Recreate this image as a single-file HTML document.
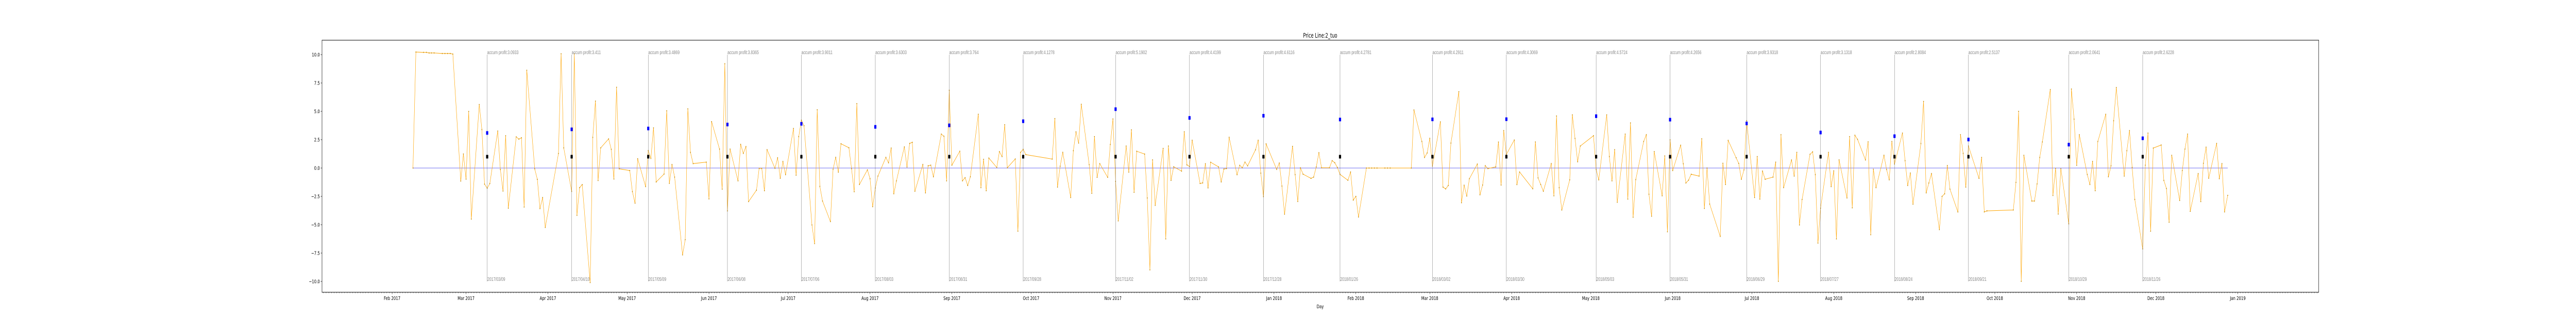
<!DOCTYPE html>
<html><head><meta charset="utf-8"><style>
html,body{margin:0;padding:0;background:#fff;overflow:hidden;width:100%;height:100%;}
svg{display:block;font-family:"DejaVu Sans","Liberation Sans",sans-serif;width:100vw;height:100vh;}
</style></head><body>
<svg id="chart" viewBox="0 0 7200 648" preserveAspectRatio="none" xmlns="http://www.w3.org/2000/svg">
<text x="3690" y="73" text-anchor="middle" font-size="12">Price Line:2_tuo</text>
<text x="3690" y="598" text-anchor="middle" font-size="10">Day</text>
</svg>
<script>
// days since 2017-01-01
const days = [38.9,40,42.9,44,45,45.9,46.9,50,51,52,53,54,57,58,59,60,61,64,65,66,67,68,71,72,73,74,75,78,79,80,81,82,85,86,87,88,89,94,95,96,99,100,101,102,103,106,107,108,109,110,113,114,115,116,117,121,122,123,124,127,128,129,130,131,134,135,136,137,138,141,142,143,144,145,150,151,152,155,156,157,158,159,162,163,164,165,166,169,170,171,172,173,176,177,178,179,180,183,184,185,186,187,190,191,192,193,194,197,198,199,200,201,204,205,206,207,208,211,212,213,214,215,218,219,220,221,222,225,226,227,228,229,232,233,234,235,236,239,240,241,242,243,246,247,248,249,250,253,254,255,256,257,260,261,262,263,264,267,268,269,270,271,281,282,283,284,285,288,289,290,291,292,295,296,297,298,299,302,303,304,305,306,309,310,311,312,313,316,317,318,319,320,323,324,325,326,327,330,331,332,333,334,337,338,339,340,341,344,345,346,347,348,351,352,353,354,355,358,359,360,361,362,366,367,368,369,372,373,374,375,376,379,380,381,382,383,386,387,388,389,390,393,394,395,396,397,400,401,402,403,404,407,408,409,417,418,421,422,423,424,425,428,429,430,431,432,435,436,437,438,439,442,443,444,445,446,449,450,451,452,453,456,457,458,463,464,465,466,467,470,471,472,473,474,477,478,479,480,481,486,487,488,491,492,493,494,495,498,499,500,501,502,505,506,507,508,509,512,513,514,515,516,519,520,521,522,523,526,527,528,529,530,534,535,536,537,540,541,542,543,544,547,548,549,550,551,554,555,556,557,558,561,562,563,564,565,568,569,570,571,572,575,576,577,578,579,582,583,584,585,586,589,590,591,592,593,596,597,598,599,600,603,604,605,606,607,610,611,612,613,614,617,618,619,620,621,624,625,626,627,628,632,633,634,635,645,646,647,648,649,652,653,654,655,656,659,660,661,662,663,666,667,668,669,670,673,674,675,676,677,680,681,682,683,684,687,688,689,690,691,694,695,696,697,698,701,702,703,704,705,708,709,710,711,712,715,716,717,718,719,722,723,724,725,726.2];
const values = [0,10.23,10.2,10.2,10.15,10.15,10.15,10.1,10.1,10.1,10.1,10.05,-1.15,1.24,-0.98,4.99,-4.5,5.6,3.39,-1.42,-1.78,-1.37,3.26,-0.13,-2.03,2.85,-3.54,2.75,2.55,2.67,-3.44,8.62,-0.07,-1.0,-3.58,-2.6,-5.24,1.28,10.08,1.78,-2.06,10.08,-4.17,-1.73,-1.46,-10.1,2.7,5.9,-1.1,1.78,2.57,1.65,-0.97,7.12,-0.07,-0.22,-2.08,-3.1,0.82,-1.64,1.54,0.85,3.54,-1.23,-0.53,5.05,-1.35,0.31,-0.8,-7.66,-6.32,5.22,1.38,0.39,0.52,-2.72,4.09,1.67,-1.86,9.2,-3.78,1.67,-1.13,2.09,1.29,1.89,-2.96,-1.95,-0.03,-0.03,-2.0,1.62,-0.03,0.9,-0.9,0.58,-0.58,3.49,-0.63,2.77,4.22,3.73,-5.02,-6.66,5.14,-1.62,-2.91,-4.72,-0.11,0.94,-0.36,2.14,1.79,-0.06,-2.09,5.68,-1.45,-0.16,-0.94,-3.41,-1.76,-0.71,0.94,0.46,1.76,-2.27,-1.13,1.86,0.09,2.17,2.27,-2.05,0.31,-2.19,0.2,0.25,-0.77,2.99,2.8,-1.13,6.86,0.25,1.48,-1.13,-0.85,-1.54,-0.77,4.74,-1.73,0.77,-2.0,0.88,0.05,1.45,1.01,3.82,0.02,0.8,-5.57,1.38,1.65,1.18,0.79,4.36,-1.68,0.16,1.38,-2.6,1.53,3.19,2.2,5.62,0.3,-2.23,2.77,-0.82,0.39,-0.82,2.08,4.33,-1.18,-4.66,1.94,-0.36,3.37,-2.14,1.48,1.23,-2.64,-8.98,0.72,-3.29,1.73,-6.25,1.94,-1.09,0.11,-0.27,3.2,0.28,0.14,2.45,-1.36,-1.31,0.38,-1.75,0.51,0.1,-1.22,-0.09,-0.05,2.71,-0.59,0.24,0.02,0.52,0.19,1.61,2.45,-0.45,-2.52,2.13,-0.12,0.44,-1.59,-4.07,1.91,-0.58,-2.95,0.02,-0.54,-0.91,-0.8,0.1,1.35,0.02,0.02,0.65,0.47,0.05,-0.56,-1.08,-0.35,-2.83,-2.5,-4.32,0,0,0,0,0,0,0,0,0,5.12,2.34,0.93,1.33,2.62,0.17,4.07,-1.68,-1.84,-1.54,2.2,6.73,-3.06,-1.52,-2.47,-0.94,0.35,-2.36,-1.5,0.21,-0.05,0.1,2.29,-1.5,3.3,1.2,2.47,-1.46,-0.35,-1.83,2.3,-0.87,-1.45,-2.05,0.39,-2.45,4.59,-1.73,-3.7,-1.04,4.69,2.61,0.55,1.94,2.85,-0.13,-1.04,4.69,1.01,-1.13,1.62,-3.02,2.99,-2.74,3.98,-4.34,-1.02,2.34,2.94,-2.31,-4.25,1.45,-2.45,1.07,-5.62,2.49,-0.22,2.01,0.38,-1.32,-1.07,-0.55,-0.71,2.58,-3.56,0,-3.18,-6.03,0.42,-1.45,2.44,0.91,0.41,-0.99,-0.16,4.18,-2.6,1.01,-2.74,-0.27,-0.99,-0.8,0.52,-9.99,2.94,-1.73,0.71,-0.71,1.38,-5.02,-2.77,1.21,1.43,-0.58,-6.62,-3.54,1.38,-1.64,-0.25,-6.25,0.72,-2.64,2.77,-3.51,2.89,2.53,0.71,2.31,-5.88,-0.11,-1.73,1.12,-0.13,-1.04,2.34,0.35,3.08,0.65,-1.54,-0.44,-3.19,2.16,5.87,-2.19,-1.32,-0.49,-5.43,-2.5,-2.27,0.22,-1.86,-3.87,2.94,1.29,-1.68,1.94,-0.91,0.93,-3.87,-3.78,-3.7,-1.27,5.0,-9.99,1.12,-2.91,-2.91,-1.4,0.93,2.3,6.92,-2.42,-0.03,-4.06,-0.06,-4.92,6.97,4.31,0.24,2.94,-0.57,-1.45,0.58,-2.0,2.34,4.74,-0.77,0.2,4.17,7.1,-0.71,1.53,3.3,0.05,-2.77,-7.13,0.25,3.08,-5.57,1.76,2.03,-1.09,-1.81,-4.78,1.12,-2.86,-0.22,1.67,2.99,-3.82,-0.49,-2.96,0.42,1.84,-0.9,2.17,-0.94,0.39,-3.87,-2.41];
// trade markers
const tradeDays = [67,99,128,158,186,214,242,270,305,333,361,390,425,453,487,515,544,572,600,628,666,694];
const tradeLabels = ["2017/03/09","2017/04/10","2017/05/09","2017/06/08","2017/07/06","2017/08/03","2017/08/31","2017/09/28","2017/11/02","2017/11/30","2017/12/28","2018/01/26","2018/03/02","2018/03/30","2018/05/03","2018/05/31","2018/06/29","2018/07/27","2018/08/24","2018/09/21","2018/10/29","2018/11/26"];
const accumProfits = [3.0933,3.411,3.4869,3.8365,3.9011,3.6303,3.764,4.1278,5.1902,4.4199,4.6116,4.2781,4.2911,4.3069,4.5724,4.2656,3.9318,3.1318,2.8084,2.5137,2.0641,2.6228];
const yTicks = [-10,-7.5,-5,-2.5,0,2.5,5,7.5,10];
const monthNames = ["Jan","Feb","Mar","Apr","May","Jun","Jul","Aug","Sep","Oct","Nov","Dec"];

const NS="http://www.w3.org/2000/svg";
const svg=document.getElementById('chart');
const L=900,R=6481,T=78,B=567;
const xs=d=>867.2+7.38*d;
const ys=v=>326-22*v;
function mk(tag,attrs,parent){const e=document.createElementNS(NS,tag);for(const k in attrs)e.setAttribute(k,attrs[k]);(parent||svg).appendChild(e);return e;}

yTicks.forEach(v=>{
  const t=mk('line',{x1:L-3.5,x2:L,y1:ys(v),y2:ys(v),stroke:'#000','stroke-width':0.8});
  
  
  const s=(v<0?'\u2212':'')+Math.abs(v).toFixed(1);
  const tx=mk('text',{x:L-6,y:ys(v)+3.5,'text-anchor':'end','font-size':10});
  tx.textContent=s;
  
  
});
const base=Date.UTC(2017,0,1);
for(let d=5; d<=760; d++){
  const dt=new Date(base+d*86400000);
  const major=dt.getUTCDate()===1;
  const t=mk('line',{x1:xs(d),x2:xs(d),y1:B,y2:B+(major?3.5:2),stroke:'#000','stroke-width':major?0.8:0.6});
  
  
  if(major){
    const tx=mk('text',{x:xs(d),y:B+15,'text-anchor':'middle','font-size':10});
    tx.textContent=monthNames[dt.getUTCMonth()]+' '+dt.getUTCFullYear();
    
    
  }
}
const zl=mk('line',{x1:xs(days[0]),x2:xs(days[days.length-1]),y1:ys(0),y2:ys(0),stroke:'#7070f0','stroke-width':1});


const pl=mk('polyline',{points:days.map((d,i)=>xs(d)+','+ys(values[i])).join(' '),fill:'none',stroke:'#ffa500','stroke-width':1});


days.forEach((d,i)=>{
  const c=mk('rect',{x:xs(d)-1,y:ys(values[i])-1,width:2,height:2,fill:'#c88a00'});
  
  
});
tradeDays.forEach((d,i)=>{
  const x=xs(d);
  const ln=mk('line',{x1:x,x2:x,y1:ys(10),y2:ys(-10),stroke:'#555','stroke-width':0.6});
  
  
  const a=mk('text',{x:x,y:ys(10)-1,'font-size':10,fill:'#888','font-family':'Liberation Sans, sans-serif'});
  a.textContent='accum profit:'+accumProfits[i];
  
  
  const dl=mk('text',{x:x+0.5,y:ys(-10)-1,'font-size':10,fill:'#888','font-family':'Liberation Sans, sans-serif'});
  dl.textContent=tradeLabels[i];
  
  
  const b=mk('rect',{x:x-3,y:ys(accumProfits[i])-3.5,width:6,height:7,fill:'#0000ff'});
  
  
  const k=mk('rect',{x:x-3,y:ys(1)-3.5,width:6,height:7,fill:'#000'});
  
  
});
const fr=mk('rect',{x:L,y:T,width:R-L,height:B-T,fill:'none',stroke:'#000','stroke-width':1});


</script>
</body></html>
